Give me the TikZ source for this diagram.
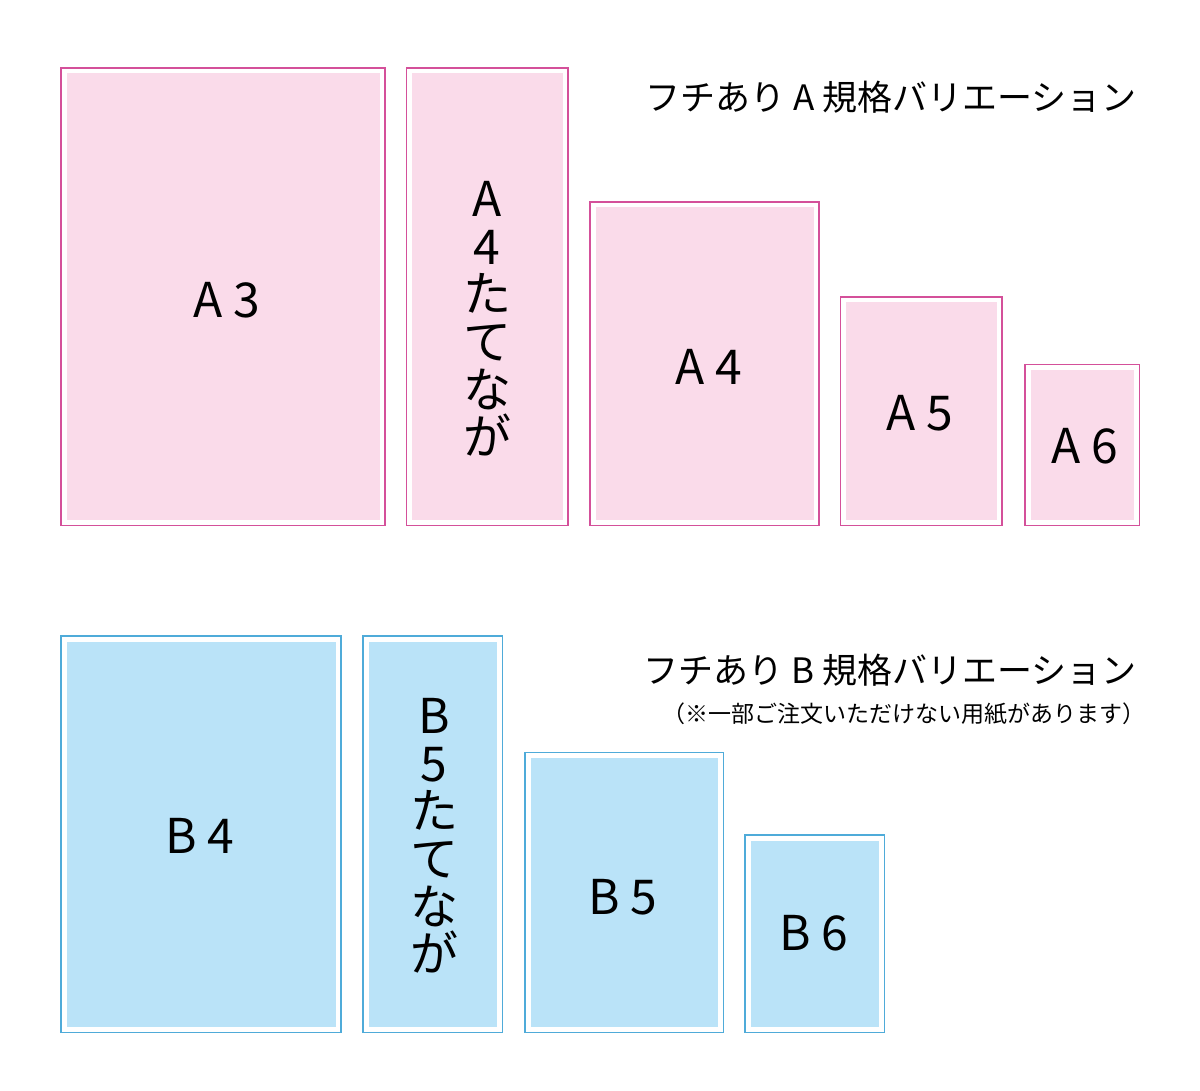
\documentclass[tikz,border=0pt]{standalone}
\usepackage{fontspec}
\setmainfont{Noto Sans CJK JP}
\definecolor{pinkline}{HTML}{D4509A}
\definecolor{pinkfill}{HTML}{FADBEA}
\definecolor{blueline}{HTML}{4FABD9}
\definecolor{bluefill}{HTML}{BAE3F8}
\newcommand{\bigfont}{\fontsize{48}{47.6}\selectfont}
\newcommand{\titlefont}{\fontsize{35}{40}\selectfont}
\newcommand{\notefont}{\fontsize{23}{26}\selectfont}
\tikzset{
  paperbox/.style 2 args={draw=#1, line width=1.7pt, fill=white, inner sep=0pt, outer sep=0pt,
    font=\bigfont, align=center,
    path picture={\fill[#2] ([shift={(5.5pt,5.5pt)}]path picture bounding box.south west)
      rectangle ([shift={(-5.5pt,-5.5pt)}]path picture bounding box.north east);}},
  pbox/.style={paperbox={pinkline}{pinkfill}},
  bbox/.style={paperbox={blueline}{bluefill}},
  labeltext/.style={font=\bigfont, align=center, inner sep=0pt},
  titletext/.style={font=\titlefont, inner sep=0pt, anchor=base east},
  notetext/.style={font=\notefont, inner sep=0pt, anchor=base east},
}
\begin{document}
\begin{tikzpicture}[x=1pt,y=-1pt]
\useasboundingbox[fill=white] (0,0) rectangle (1200,1091);
% A series
\node[pbox, minimum width=324pt, minimum height=457.5pt] (a3) at (223,296.75) {};
\node[labeltext] (a3l) at (227,300) {A 3};
\node[pbox, minimum width=161.5pt, minimum height=457.5pt] (a4t) at (487.25,296.75) {};
\node[labeltext] (a4tl) at (487,319) {A\\4\\た\\て\\な\\が};
\node[pbox, minimum width=229pt, minimum height=323.5pt] (a4) at (704.5,363.75) {};
\node[labeltext] (a4l) at (709,367) {A 4};
\node[pbox, minimum width=161.5pt, minimum height=228.5pt] (a5) at (921.25,411.25) {};
\node[labeltext] (a5l) at (920,413) {A 5};
\node[pbox, minimum width=114.5pt, minimum height=161pt] (a6) at (1082.25,445) {};
\node[labeltext] (a6l) at (1085,446) {A 6};
\node[titletext] (atitle) at (1137,111) {フチあり A 規格バリエーション};
% B series
\node[bbox, minimum width=280pt, minimum height=396.5pt] (b4) at (201,834.25) {};
\node[labeltext] (b4l) at (200,836) {B 4};
\node[bbox, minimum width=139.5pt, minimum height=396.5pt] (b5t) at (432.75,834.25) {};
\node[labeltext] (b5tl) at (434,836) {B\\5\\た\\て\\な\\が};
\node[bbox, minimum width=198.5pt, minimum height=280pt] (b5) at (624.25,892.5) {};
\node[labeltext] (b5l) at (623,897) {B 5};
\node[bbox, minimum width=139.5pt, minimum height=197.5pt] (b6) at (814.75,933.75) {};
\node[labeltext] (b6l) at (814,933) {B 6};
\node[titletext] (btitle) at (1137,683) {フチあり B 規格バリエーション};
\node[notetext] (bnote) at (1146,722) {（※一部ご注文いただけない用紙があります）};
\end{tikzpicture}
\end{document}
